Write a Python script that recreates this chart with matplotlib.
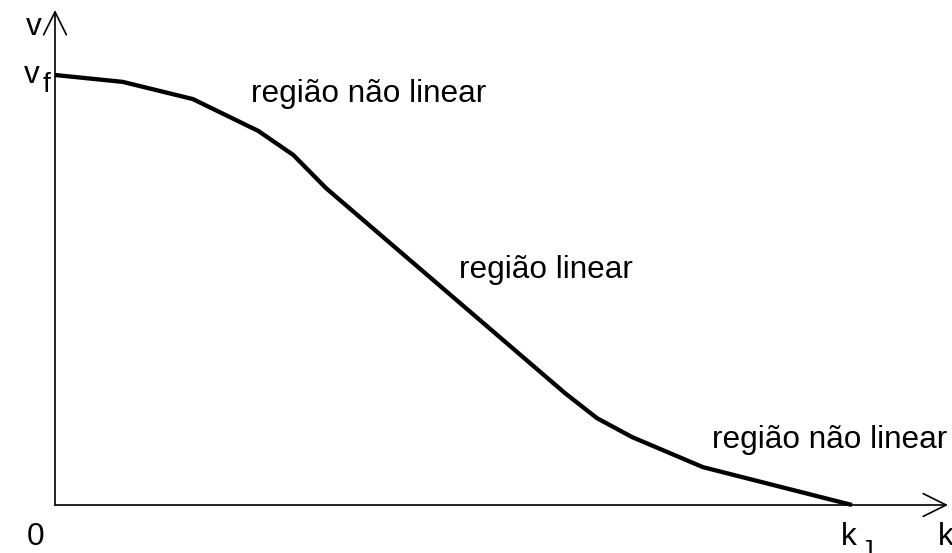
import matplotlib
matplotlib.use("Agg")
import matplotlib.pyplot as plt

plt.rcParams['font.family'] = ['Liberation Sans', 'DejaVu Sans']

## data: density k (normalised by k_J) and speed v (normalised by v_f)
k = [0.0, 0.085, 0.173, 0.255, 0.299, 0.340, 0.640, 0.680, 0.724, 0.813, 1.0]
v = [1.0, 0.984, 0.944, 0.870, 0.814, 0.737, 0.260, 0.202, 0.158, 0.088, 0.0]
region_labels = ["região não linear", "região linear", "região não linear"]

# pixel frame: x axis at px 55, k_J at px 852; v=0 at py 505, v_f at py 75
fig = plt.figure(figsize=(9.52, 5.53), dpi=100)
ax = fig.add_axes([0, 0, 1, 1])
ax.set_xlim(-55/797, (952-55)/797)
ax.set_ylim((505-553)/430, 505/430)
ax.axis("off")

# axes with open arrow heads
arrow = dict(arrowstyle="->,head_length=1.65,head_width=0.82", lw=1.2, color="k",
             shrinkA=0, shrinkB=0)
ax.annotate("", xy=(0, (505-10)/430), xytext=(0, 0), arrowprops=arrow)
ax.annotate("", xy=((948-55)/797, 0), xytext=(0, 0), arrowprops=arrow)

# curve
ax.plot(k, v, color="k", lw=3.1, solid_capstyle="butt", solid_joinstyle="round")

fs = 22.7
ax.text(0.394, 0.937, region_labels[0], fontsize=fs, ha="center", va="baseline")
ax.text(0.616, 0.528, region_labels[1], fontsize=fs, ha="center", va="baseline")
ax.text(0.972, 0.1326, region_labels[2], fontsize=fs, ha="center", va="baseline")

# axis labels (subscripts drawn as offset letters)
ax.text((42-55)/797, (505-35)/430, "v", fontsize=fs, ha="right", va="baseline")
ax.text((40-55)/797, (505-83)/430, "v", fontsize=fs, ha="right", va="baseline")
ax.text((43-55)/797, (505-92)/430, "f", fontsize=fs*0.9, ha="left", va="baseline")
ax.text(-0.025, (505-545)/430, "0", fontsize=fs, ha="center", va="baseline")
ax.text((857-55)/797, (505-545)/430, "k", fontsize=fs, ha="right", va="baseline")
ax.text((861-55)/797, (505-558)/430, "J", fontsize=fs*0.8, ha="left", va="baseline")
ax.text((938-55)/797, (505-545)/430, "k", fontsize=fs, ha="left", va="baseline")

fig.savefig("out.png", dpi=100)
